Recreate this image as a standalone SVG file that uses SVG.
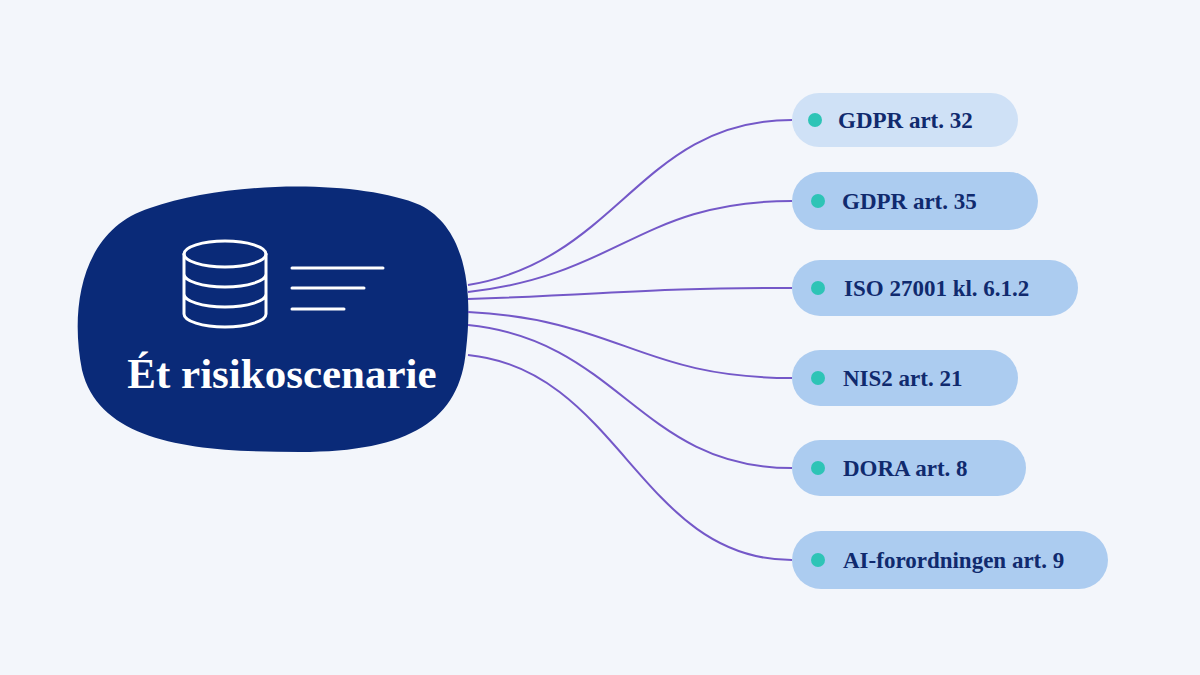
<svg xmlns="http://www.w3.org/2000/svg" width="1200" height="675" viewBox="0 0 1200 675">
<style>
.pill{fill:#acccf0}
.dot{fill:#2ec4b6}
.lbl{font-family:"Liberation Serif",serif;font-weight:bold;font-size:23px;fill:#102a6e}
.c{fill:none;stroke:#7458c8;stroke-width:2}
.ic{fill:none;stroke:#fff;stroke-width:3;stroke-linecap:round}
</style>
<rect width="1200" height="675" fill="#f3f6fb"/>
<g id="center">
<path d="M150 208 C230 180 360 180 420 205 C470 230 472 300 466 350 C460 420 410 452 300 452 C200 452 100 445 82 370 C70 310 80 230 150 208 Z" fill="#0a2a78"/>
<ellipse class="ic" cx="225" cy="254" rx="41" ry="13"/>
<path class="ic" d="M184 254 V314 A41 13 0 0 0 266 314 V254 M184 274 A41 13 0 0 0 266 274 M184 294 A41 13 0 0 0 266 294"/>
<path class="ic" d="M292 268 H383 M292 288 H364 M292 309 H344"/>
<text x="282" y="388" text-anchor="middle" font-family="Liberation Serif,serif" font-weight="bold" font-size="43" fill="#fff">Ét risikoscenarie</text>
</g>
<g id="connectors">
<path class="c" d="M468 285 C620 260 640 120 792 120"/>
<path class="c" d="M468 292 C620 275 640 201 792 201"/>
<path class="c" d="M468 299 C620 294 640 288 792 288"/>
<path class="c" d="M468 312 C620 320 640 378 792 378"/>
<path class="c" d="M468 325 C620 340 640 468 792 468"/>
<path class="c" d="M468 355 C620 370 640 560 792 560"/>
</g>
<g id="n1"><rect x="792" y="93" width="226" height="54" rx="27" fill="#cfe1f6"/><circle class="dot" cx="815" cy="120" r="7"/><text class="lbl" x="838" y="128">GDPR art. 32</text></g>
<g id="n2"><rect class="pill" x="792" y="172" width="246" height="58" rx="29"/><circle class="dot" cx="818" cy="201" r="7"/><text class="lbl" x="842" y="209">GDPR art. 35</text></g>
<g id="n3"><rect class="pill" x="792" y="260" width="286" height="56" rx="28"/><circle class="dot" cx="818" cy="288" r="7"/><text class="lbl" x="844" y="296">ISO 27001 kl. 6.1.2</text></g>
<g id="n4"><rect class="pill" x="792" y="350" width="226" height="56" rx="28"/><circle class="dot" cx="818" cy="378" r="7"/><text class="lbl" x="843" y="386">NIS2 art. 21</text></g>
<g id="n5"><rect class="pill" x="792" y="440" width="234" height="56" rx="28"/><circle class="dot" cx="818" cy="468" r="7"/><text class="lbl" x="843" y="476">DORA art. 8</text></g>
<g id="n6"><rect class="pill" x="792" y="531" width="316" height="58" rx="29"/><circle class="dot" cx="818" cy="560" r="7"/><text class="lbl" x="843" y="568">AI-forordningen art. 9</text></g>
</svg>
